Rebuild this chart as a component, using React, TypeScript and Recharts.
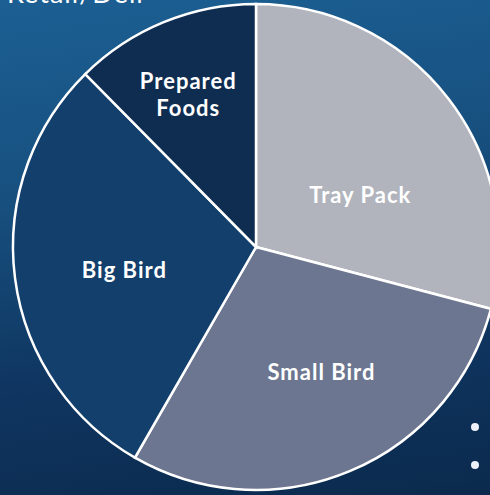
import React from "react";
import { PieChart, Pie, Cell } from "recharts";

const categories = ["Tray Pack", "Small Bird", "Big Bird", "Prepared Foods"];
const shares = [29.1, 29.2, 29.3, 12.4];
const colors = ["#b1b4bd", "#6c7690", "#133f6c", "#0f2d51"];

// label placement tweaks (radius factor, angle offset in degrees)
const labelRadius = [0.48, 0.58, 0.55, 0.69];
const labelShift = [-11, 5, 2.5, 1.5];

const data = categories.map((name, i) => ({ name, value: shares[i] }));

const RAD = Math.PI / 180;

const renderLabel = (props: any) => {
  const { cx, cy, midAngle, outerRadius, index, name } = props;
  const r = outerRadius * labelRadius[index];
  const a = (midAngle + labelShift[index]) * RAD;
  const x = cx + r * Math.cos(-a);
  const y = cy + r * Math.sin(-a);
  const lines = String(name).split(" ");
  const multi = index === 3;
  return (
    <text
      x={x}
      y={y}
      fill="#ffffff"
      textAnchor="middle"
      dominantBaseline="central"
      style={{
        fontFamily: "Lato, sans-serif",
        fontWeight: 700,
        fontSize: 22,
        letterSpacing: 1,
      }}
    >
      {multi
        ? lines.map((l, k) => (
            <tspan key={k} x={x} dy={k === 0 ? -13.5 : 27}>
              {l}
            </tspan>
          ))
        : name}
    </text>
  );
};

export default function App() {
  return (
    <div
      style={{
        position: "absolute",
        left: 0,
        top: 0,
        width: 490,
        height: 495,
        overflow: "hidden",
        background:
          "linear-gradient(172deg, #1c5f93 0%, #17507f 35%, #0f3560 70%, #0b2a4d 100%)",
      }}
    >
      <div
        style={{
          position: "absolute",
          left: 7,
          top: -22,
          color: "#ffffff",
          fontFamily: "Lato, sans-serif",
          fontSize: 27,
          lineHeight: "30px",
          letterSpacing: 1,
        }}
      >
        Retail/Deli
      </div>
      <PieChart width={490} height={495} margin={{ top: 0, right: 0, bottom: 0, left: 0 }}>
        <Pie
          data={data}
          dataKey="value"
          nameKey="name"
          cx={256}
          cy={247}
          outerRadius={243}
          startAngle={90}
          endAngle={-270}
          stroke="#ffffff"
          strokeWidth={2.5}
          label={renderLabel}
          labelLine={false}
          isAnimationActive={false}
        >
          {data.map((d, i) => (
            <Cell key={d.name} fill={colors[i]} />
          ))}
        </Pie>
      </PieChart>
      {[427, 465].map((t) => (
        <div
          key={t}
          style={{
            position: "absolute",
            left: 471,
            top: t - 4,
            width: 8,
            height: 8,
            borderRadius: 4,
            background: "#eef2f8",
          }}
        />
      ))}
    </div>
  );
}
